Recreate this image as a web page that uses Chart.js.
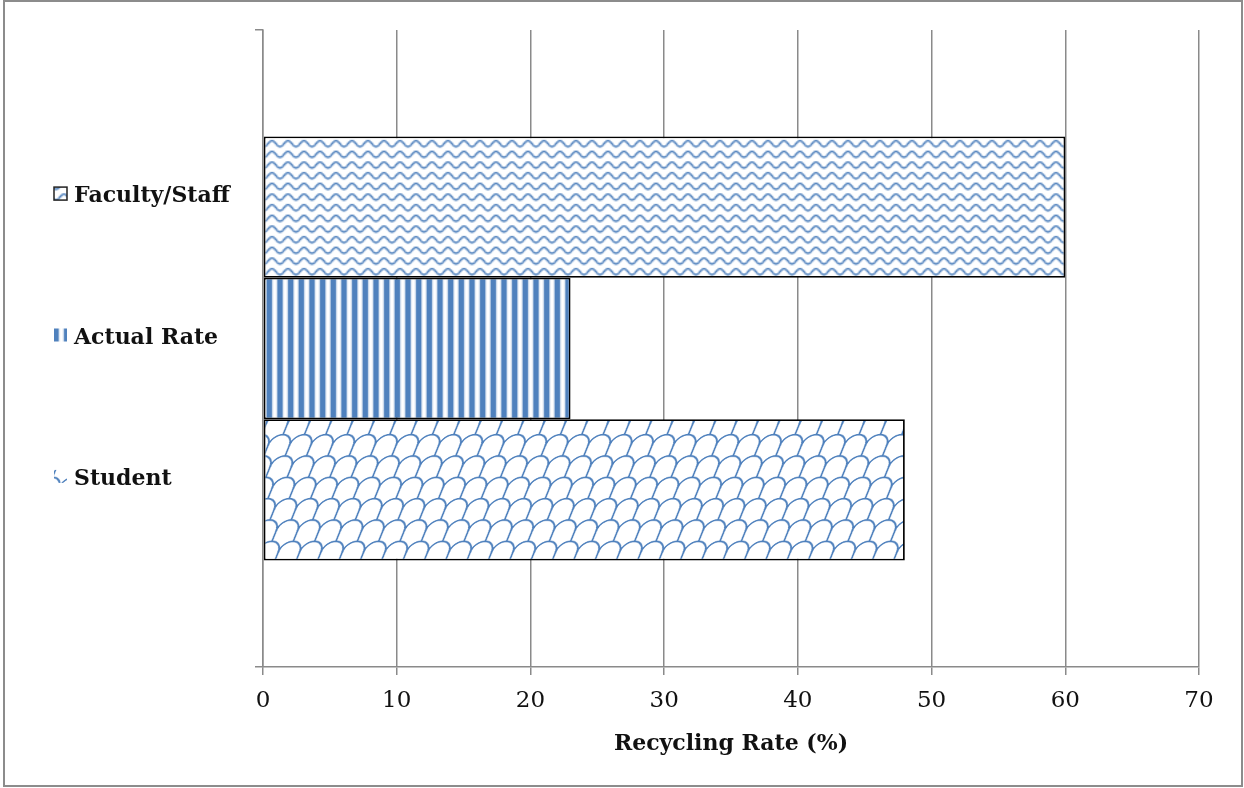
<!DOCTYPE html>
<html>
<head>
<meta charset="utf-8">
<script src="https://cdn.jsdelivr.net/npm/chart.js@4.4.1/dist/chart.umd.min.js"></script>
<style>
  html, body { margin: 0; padding: 0; background: #fff; }
  #wrap { width: 1244px; height: 788px; }
</style>
</head>
<body>
<div id="wrap"><canvas id="chart" width="1244" height="788"></canvas></div>
<script>
// values
const categories = ['Recycling'];
const seriesNames = ['Faculty/Staff', 'Actual Rate', 'Student'];
const facultyValues = [60];
const actualValues = [23];
const studentValues = [48];
const xTicks = [0, 10, 20, 30, 40, 50, 60, 70];

const blue = '#4f81bd';
const lightBlue = '#c5d6ea';

// small helper to make a repeating fill, scaled like the office patterns
function makePattern(w, h, matrix, drawFn) {
    const c = document.createElement('canvas');
    c.width = w;
    c.height = h;
    const g = c.getContext('2d');
    g.fillStyle = '#fff';
    g.fillRect(0, 0, w, h);
    drawFn(g, w, h);
    const p = document.getElementById('chart').getContext('2d').createPattern(c, 'repeat');
    p.setTransform(matrix);
    return p;
}

const wavePattern = makePattern(12, 8, new DOMMatrix().scale(4 / 3, 4 / 3), (g, w, h) => {
    g.strokeStyle = blue;
    g.lineWidth = 1.4;
    g.beginPath();
    for (let x = -1; x <= w + 1; x += 0.5) {
        let y = 3.8 - 2.2 * Math.cos(2 * Math.PI * x / w);
        if (x === -1) g.moveTo(x, y); else g.lineTo(x, y);
    }
    g.stroke();
});

const stripePattern = makePattern(8, 8, new DOMMatrix().scale(4 / 3, 4 / 3), (g, w, h) => {
    g.fillStyle = blue;
    g.fillRect(0, 0, 4, h);
    g.fillStyle = lightBlue;
    g.fillRect(4, 0, 0.6, h);
    g.fillRect(7.4, 0, 0.6, h);
});

// shingle-like net: rows of arcs joined by short tails, slanted
const shingleMatrix = new DOMMatrix().scale(2 / 3, 2 / 3).skewX(-22);
const scalePattern = makePattern(32, 64, shingleMatrix, (g, w, h) => {
    g.strokeStyle = blue;
    g.lineWidth = 2.6;
    g.lineCap = 'round';
    const rows = [[28, [16, 48, -16]], [60, [0, 32]], [-4, [0, 32]]];
    rows.forEach(([y, xs]) => {
        xs.forEach(x => {
            g.beginPath();
            g.arc(x, y, 16, Math.PI, 2 * Math.PI);
            g.stroke();
        });
    });
    g.beginPath();
    g.moveTo(0, 28); g.lineTo(0, 44);
    g.moveTo(32, 28); g.lineTo(32, 44);
    g.moveTo(16, 60); g.lineTo(16, 76);
    g.moveTo(16, -4); g.lineTo(16, 12);
    g.stroke();
});

const fills = [wavePattern, stripePattern, scalePattern];

// outer frame of the picture
const framePlugin = {
    id: 'frame',
    beforeDraw(chart) {
        const ctx = chart.ctx;
        ctx.save();
        ctx.fillStyle = '#fff';
        ctx.fillRect(0, 0, chart.width, chart.height);
        ctx.strokeStyle = '#8c8c8c';
        ctx.lineWidth = 2;
        ctx.strokeRect(4, 1, chart.width - 6, chart.height - 3);
        ctx.restore();
    }
};

// legend on the left, one entry beside each bar
const sideLegend = {
    id: 'sideLegend',
    afterDraw(chart) {
        const ctx = chart.ctx;
        ctx.save();
        ctx.font = 'bold 22px "DejaVu Serif"';
        ctx.textBaseline = 'alphabetic';
        ctx.textAlign = 'left';
        chart.data.datasets.forEach((ds, i) => {
            const bar = chart.getDatasetMeta(i).data[0];
            const base = bar.y - 5;
            ctx.fillStyle = ds.backgroundColor;
            ctx.fillRect(54, base - 15, 13, 13);
            if (i === 0) {
                ctx.strokeStyle = '#222';
                ctx.lineWidth = 1.5;
                ctx.strokeRect(54, base - 15, 13, 13);
            }
            ctx.fillStyle = '#111';
            ctx.fillText(ds.label, 74, base);
        });
        ctx.restore();
    }
};

const datasets = [
    { label: seriesNames[0], data: facultyValues, backgroundColor: fills[0] },
    { label: seriesNames[1], data: actualValues, backgroundColor: fills[1] },
    { label: seriesNames[2], data: studentValues, backgroundColor: fills[2] }
].map(d => Object.assign(d, {
    borderColor: '#000',
    borderWidth: 1.8,
    borderSkipped: false,
    categoryPercentage: 0.666,
    barPercentage: 1.0
}));

new Chart(document.getElementById('chart'), {
    type: 'bar',
    data: { labels: categories, datasets: datasets },
    plugins: [framePlugin, sideLegend],
    options: {
        indexAxis: 'y',
        responsive: false,
        animation: false,
        layout: { padding: { left: 253, top: 30, right: 45, bottom: 0 } },
        plugins: {
            legend: { display: false },
            tooltip: { enabled: false }
        },
        scales: {
            x: {
                type: 'linear',
                min: xTicks[0],
                max: xTicks[xTicks.length - 1],
                afterBuildTicks: s => { s.ticks = xTicks.map(v => ({ value: v })); },
                afterFit: s => { s.height = 121; },
                grid: { color: '#8a8a8a', lineWidth: 1.5, tickLength: 8 },
                border: { color: '#8a8a8a', width: 1.5 },
                ticks: {
                    color: '#111',
                    padding: 12,
                    font: { family: '"DejaVu Serif"', size: 23 }
                },
                title: {
                    display: true,
                    text: 'Recycling Rate (%)',
                    color: '#111',
                    font: { family: '"DejaVu Serif"', size: 22, weight: 'bold' },
                    padding: { top: 0, bottom: 31 }
                }
            },
            y: {
                afterFit: s => { s.width = 10; },
                grid: { offset: true, drawOnChartArea: false, color: '#8a8a8a', lineWidth: 1.5, tickLength: 8 },
                border: { color: '#8a8a8a', width: 1.5 },
                ticks: { display: false }
            }
        }
    }
});
</script>
</body>
</html>
